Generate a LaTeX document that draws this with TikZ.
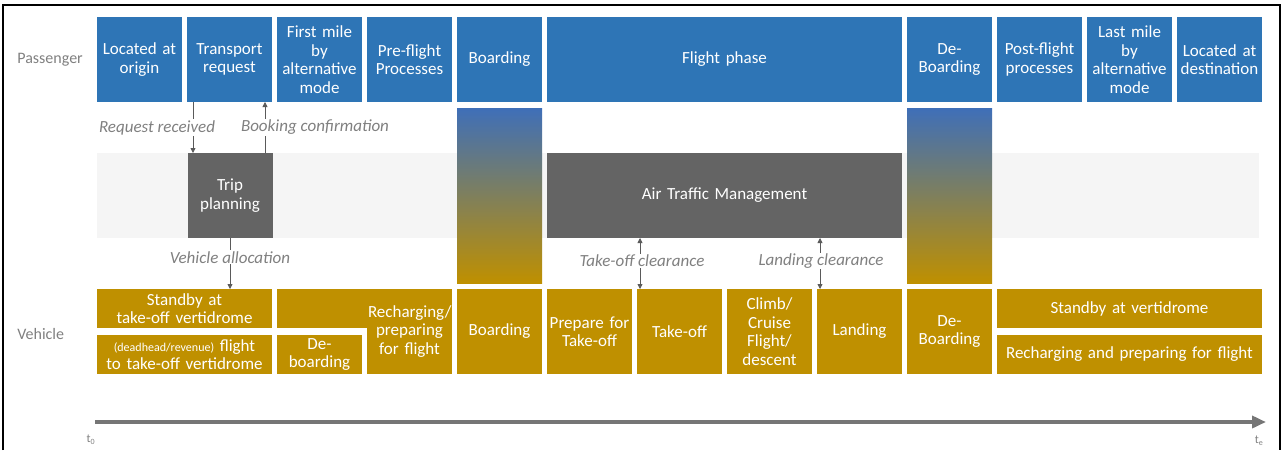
\documentclass[tikz,border=0pt]{standalone}
\usepackage{fontspec}
\setmainfont{Carlito}
\usetikzlibrary{arrows.meta,positioning,calc}
\definecolor{paxblue}{HTML}{2E75B6}
\definecolor{vehgold}{HTML}{BF9000}
\definecolor{fadeblue}{HTML}{3F6FB8}
\definecolor{fademid}{HTML}{8E7F7C}
\definecolor{mgmtgray}{HTML}{646464}
\definecolor{bandgray}{HTML}{F5F5F5}
\definecolor{txtgray}{HTML}{808080}
\definecolor{arrgray}{HTML}{5A5A5A}
\definecolor{axisgray}{HTML}{767676}
\tikzset{every picture/.style={line width=0.75pt}}
\tikzset{
    phase/.style={inner sep=1pt, outer sep=0pt, text width=83pt, minimum height=85pt, align=center,
        text=white, font=\fontsize{17}{18.5}\selectfont},
    pax/.style={phase, fill=paxblue},
    veh/.style={phase, fill=vehgold},
    halfveh/.style={veh, minimum height=39pt, text width=173pt},
    mgmt/.style={phase, fill=mgmtgray},
    msg/.style={fill=white, inner sep=1pt, text=txtgray, font=\fontsize{17}{20}\selectfont\itshape},
    msgarrow/.style={draw=arrgray, line width=0.8pt, -{Triangle[width=5pt,length=5pt]}},
    msgboth/.style={msgarrow, {Triangle[width=5pt,length=5pt]}-{Triangle[width=5pt,length=5pt]}},
    rowlabel/.style={text=txtgray, inner sep=0pt, font=\fontsize{16}{18}\selectfont},
    timeline/.style={draw=axisgray, line width=4pt, -{Triangle[width=12pt,length=14pt]}},
}

\begin{document}
\begin{tikzpicture}[x=1pt,y=-1pt]
    \useasboundingbox (0,0) rectangle (1284,450);
    \draw[line width=2pt] (3,450) |- (1280,5) -- (1280,450);

    \fill[bandgray] (97,153) rectangle (1259,238);
    \shade[top color=fadeblue, middle color=fademid, bottom color=vehgold] (457,108) rectangle (542,283);
    \shade[top color=fadeblue, middle color=fademid, bottom color=vehgold] (907,108) rectangle (992,283);

    % passenger
    \node[rowlabel, anchor=west] (paxlabel) at (17,60) {Passenger};
    \node[pax] (origin) at (139.5,59.5) {Located at\\origin};
    \node[pax, right=5pt of origin] (request) {Transport\\request};
    \node[pax, right=5pt of request] (firstmile) {First mile\\by\\alternative\\mode};
    \node[pax, right=5pt of firstmile] (preflight) {Pre-flight\\Processes};
    \node[pax, right=5pt of preflight] (boarding) {Boarding};
    \node[pax, right=5pt of boarding, text width=353pt] (flight) {Flight phase};
    \node[pax, right=5pt of flight] (deboarding) {De-\\Boarding};
    \node[pax, right=5pt of deboarding] (postflight) {Post-flight\\processes};
    \node[pax, right=5pt of postflight] (lastmile) {Last mile\\by\\alternative\\mode};
    \node[pax, right=5pt of lastmile] (destination) {Located at\\destination};

    % planning and traffic management
    \node[mgmt] (trip) at (230,195.5) {Trip\\planning};
    \node[mgmt, text width=353pt] (atm) at (724.5,195.5) {Air Traffic Management};

    % vehicle
    \node[rowlabel, anchor=west] (vehlabel) at (17,334) {Vehicle};
    \node[halfveh] (standby) at (184.5,308.5) {Standby at\\take-off vertidrome};
    \node[halfveh] (ferry) at (184.5,354.5) {{\fontsize{12}{14}\selectfont(deadhead/revenue)} flight\\to take-off vertidrome};
    \fill[vehgold] (277,289) rectangle (368,328);
    \node[veh] (recharge) at (409.5,331.5) {Recharging/\\preparing\\for flight};
    \node[veh, minimum height=39pt] (deboard) at (319.5,354.5) {De-\\boarding};
    \node[veh] (vboarding) at (499.5,331.5) {Boarding};
    \node[veh, right=5pt of vboarding] (prepare) {Prepare for\\Take-off};
    \node[veh, right=5pt of prepare] (takeoff) {Take-off};
    \node[veh, right=5pt of takeoff] (climb) {Climb/\\Cruise\\Flight/\\descent};
    \node[veh, right=5pt of climb] (landing) {Landing};
    \node[veh, right=5pt of landing] (vdeboarding) {De-\\Boarding};
    \node[halfveh, text width=263pt] (standbyend) at (1129.5,308.5) {Standby at vertidrome};
    \node[halfveh, text width=263pt] (rechargeend) at (1129.5,354.5) {Recharging and preparing for flight};

    % messages
    \draw[msgarrow] ([xshift=6pt]request.south west) -- ([xshift=6pt]request.south west |- trip.north)
        node[msg, midway, xshift=-36pt] (received) {Request received};
    \draw[msgarrow] ([xshift=-7pt]request.south east |- trip.north) -- ([xshift=-7pt]request.south east)
        node[msg, midway, xshift=50pt] (confirm) {Booking confirmation};
    \draw[msgarrow] (trip.south) -- (trip.south |- standby.north)
        node[msg, pos=0.38] (allocation) {Vehicle allocation};
    \draw[msgboth] ([xshift=3pt]takeoff.north west) -- ([xshift=3pt]takeoff.north west |- atm.south)
        node[msg, pos=0.55, xshift=2pt] (toclear) {Take-off clearance};
    \draw[msgboth] ([xshift=3pt]landing.north west) -- ([xshift=3pt]landing.north west |- atm.south)
        node[msg, pos=0.55, xshift=1pt] (ldclear) {Landing clearance};

    % time axis
    \coordinate (tstart) at (95,422);
    \coordinate (tend) at (1266,422);
    \draw[timeline] (tstart) -- (tend);
    \node[rowlabel, font=\fontsize{12}{14}\selectfont] (tzero) at (91,440) {t\textsubscript{0}};
    \node[rowlabel, font=\fontsize{12}{14}\selectfont] (tlast) at (1259,441) {t\textsubscript{e}};
\end{tikzpicture}
\end{document}
